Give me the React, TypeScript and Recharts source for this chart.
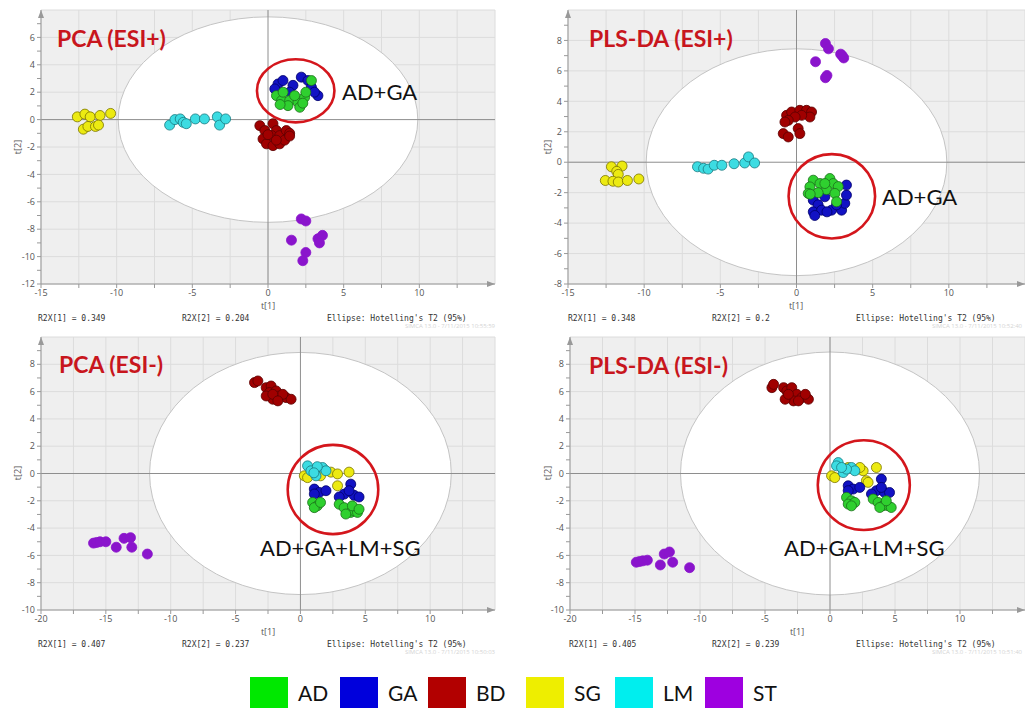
import {
  ScatterChart,
  Scatter,
  XAxis,
  YAxis,
  CartesianGrid,
  ReferenceArea,
  ReferenceLine,
  ReferenceDot,
} from "recharts";

type Pt = [number, number];

// PCA (ESI+)
const pcaPosAD: Pt[] = [[0.56, 1.75], [0.9, 1.39], [1.43, 1.39], [1.98, 1.26], [2.42, 1.63], [2.1, 0.9], [1.32, 1.02], [2.87, 2.85], [2.5, 2.0], [1.76, 1.75], [1.0, 2.0], [0.8, 1.1], [2.3, 1.2]];
const pcaPosGA: Pt[] = [[0.66, 2.6], [0.99, 2.85], [1.65, 2.5], [2.2, 3.1], [2.64, 2.85], [2.87, 2.36], [3.3, 1.75], [3.07, 2.0], [1.43, 2.0], [0.45, 2.24]];
const pcaPosBD: Pt[] = [[-0.54, -0.44], [-0.21, -0.8], [0.33, -0.3], [0.56, -0.8], [0.25, -1.17], [0.77, -1.17], [1.21, -0.8], [1.43, -1.0], [-0.33, -1.41], [-0.1, -1.77], [0.33, -1.9], [0.77, -1.77], [1.1, -1.5], [1.43, -1.2], [0.55, -1.5], [0.0, -1.1]];
const pcaPosSG: Pt[] = [[-12.6, 0.2], [-12.1, 0.4], [-11.75, 0.2], [-11.1, 0.3], [-10.4, 0.45], [-12.2, -0.7], [-11.9, -0.5], [-11.4, -0.5], [-11.2, -0.4]];
const pcaPosLM: Pt[] = [[-6.5, -0.4], [-6.15, 0.0], [-5.8, 0.05], [-5.6, -0.2], [-5.4, -0.3], [-4.8, 0.05], [-4.2, 0.05], [-3.35, 0.2], [-3.2, -0.4], [-2.8, 0.05]];
const pcaPosST: Pt[] = [[2.2, -7.25], [2.5, -7.4], [1.55, -8.8], [3.3, -8.7], [3.6, -8.45], [3.4, -9.0], [2.5, -9.7], [2.3, -10.3]];

// PLS-DA (ESI+)
const plsPosAD: Pt[] = [[1.1, -1.18], [0.88, -1.62], [0.77, -2.05], [1.54, -1.4], [2.19, -1.07], [2.41, -1.4], [2.74, -1.6], [1.97, -1.8], [1.42, -2.0], [2.52, -2.05], [2.63, -2.6], [1.86, -1.4], [0.9, -2.1]];
const plsPosGA: Pt[] = [[1.1, -2.49], [1.42, -2.8], [1.1, -3.26], [1.65, -3.15], [2.3, -3.15], [2.96, -3.15], [3.17, -2.7], [3.28, -2.16], [3.28, -1.5], [1.86, -2.27], [2.63, -2.8], [1.2, -3.5], [2.0, -3.26]];
const plsPosBD: Pt[] = [[-0.65, 3.08], [-0.32, 3.3], [0.22, 3.41], [0.66, 3.41], [0.99, 3.3], [0.88, 2.97], [0.34, 3.08], [-0.09, 2.97], [-0.54, 2.75], [-0.76, 2.64], [-0.87, 1.88], [-0.54, 1.66], [0.11, 2.21], [0.22, 1.88]];
const plsPosSG: Pt[] = [[-12.15, -0.3], [-11.45, -0.25], [-11.8, -0.6], [-11.7, -0.8], [-12.55, -1.2], [-12.05, -1.25], [-11.7, -1.3], [-11.1, -1.2], [-10.35, -1.1]];
const plsPosLM: Pt[] = [[-6.5, -0.3], [-6.1, -0.4], [-5.8, -0.45], [-5.4, -0.2], [-4.9, -0.2], [-4.1, -0.1], [-3.4, -0.05], [-3.15, 0.35], [-2.75, -0.05]];
const plsPosST: Pt[] = [[1.9, 7.8], [2.1, 7.45], [1.25, 6.6], [3.0, 7.0], [3.1, 6.85], [2.0, 5.7], [1.9, 5.55], [2.9, 7.1]];

// PCA (ESI-)
const pcaNegAD: Pt[] = [[0.94, -2.12], [1.3, -2.37], [1.07, -2.5], [1.55, -2.12], [2.99, -2.25], [3.37, -2.5], [3.88, -2.85], [4.14, -2.74], [4.4, -2.85], [4.0, -2.37], [3.5, -2.97], [4.52, -2.62]];
const pcaNegGA: Pt[] = [[1.07, -1.14], [1.45, -1.39], [1.97, -1.26], [3.88, -0.78], [3.37, -1.51], [4.14, -1.6], [4.52, -1.72], [2.99, -1.72], [1.07, -1.5], [3.75, -1.26]];
const pcaNegBD: Pt[] = [[-3.54, 6.66], [-3.28, 6.78], [-2.64, 6.29], [-2.26, 6.41], [-2.39, 5.93], [-1.87, 6.05], [-1.62, 5.68], [-1.1, 5.56], [-0.72, 5.44], [-2.13, 5.44], [-2.64, 5.68], [-1.36, 5.8], [-2.13, 5.8], [-1.74, 5.32]];
const pcaNegSG: Pt[] = [[0.3, -0.17], [0.55, -0.3], [2.35, 0.1], [2.86, -0.03], [3.75, 0.1], [2.86, -0.9], [1.8, 0.3], [1.55, -0.17]];
const pcaNegLM: Pt[] = [[0.55, 0.56], [0.81, 0.2], [1.2, -0.17], [1.7, 0.44], [1.97, 0.2], [1.3, 0.5], [1.04, 0.05]];
const pcaNegST: Pt[] = [[-15.95, -5.1], [-15.7, -5.05], [-15.45, -5.0], [-15.0, -5.0], [-14.2, -5.4], [-13.6, -4.75], [-13.1, -4.7], [-13.0, -5.4], [-11.8, -5.9]];

// PLS-DA (ESI-)
const plsNegAD: Pt[] = [[1.27, -1.75], [1.65, -2.0], [1.4, -2.24], [1.91, -2.12], [3.32, -1.87], [3.7, -2.12], [4.08, -2.36], [4.46, -2.36], [4.71, -2.49], [3.83, -2.49], [4.33, -2.0], [1.65, -2.37]];
const plsNegGA: Pt[] = [[1.4, -0.9], [1.78, -1.14], [2.29, -1.02], [3.95, -0.41], [3.57, -1.26], [4.2, -1.39], [4.58, -1.39], [3.19, -1.5], [1.4, -1.26], [3.95, -1.02]];
const plsNegBD: Pt[] = [[-4.47, 6.29], [-4.34, 6.53], [-3.57, 6.29], [-3.32, 6.05], [-2.94, 6.29], [-3.06, 5.68], [-2.55, 5.8], [-2.17, 5.56], [-1.66, 5.44], [-2.81, 5.32], [-3.45, 5.44], [-2.43, 5.32], [-3.2, 5.8], [-1.9, 5.8]];
const plsNegSG: Pt[] = [[0.12, -0.17], [0.37, -0.3], [1.4, 0.44], [2.17, 0.32], [2.55, 0.2], [3.57, 0.44], [2.8, -0.53], [2.93, -0.65], [2.3, 0.44]];
const plsNegLM: Pt[] = [[0.63, 0.8], [0.5, 0.56], [1.02, 0.07], [1.65, 0.44], [1.91, 0.2], [1.27, 0.32], [0.89, 0.44]];
const plsNegST: Pt[] = [[-14.9, -6.5], [-14.65, -6.45], [-14.4, -6.4], [-14.05, -6.35], [-13.05, -6.7], [-12.75, -5.9], [-12.35, -5.75], [-12.1, -6.5], [-10.8, -6.9]];

const groups = ["ST", "BD", "SG", "LM", "GA", "AD"];
const legendKeys = ["AD", "GA", "BD", "SG", "LM", "ST"];

const markerFill: Record<string, string> = {
  AD: "#2fd02f",
  GA: "#1212c4",
  BD: "#a00000",
  SG: "#ecea12",
  LM: "#3cdce2",
  ST: "#8a14cc",
};
const markerStroke: Record<string, string> = {
  AD: "#1c6e1c",
  GA: "#00006a",
  BD: "#5a0000",
  SG: "#7a7400",
  LM: "#1a7a80",
  ST: "#8a14cc",
};
const legendColor: Record<string, string> = {
  AD: "#00e800",
  GA: "#0000dc",
  BD: "#b20000",
  SG: "#eeee00",
  LM: "#00eeee",
  ST: "#9e00e0",
};

const panels = [
  {
    title: "PCA (ESI+)", label: "AD+GA", r2x1: "0.349", r2x2: "0.204", stamp: "SIMCA 13.0 - 7/11/2015 10:55:59",
    data: { AD: pcaPosAD, GA: pcaPosGA, BD: pcaPosBD, SG: pcaPosSG, LM: pcaPosLM, ST: pcaPosST } as Record<string, Pt[]>,
    xDomain: [-15, 15], yDomain: [-12, 8], ellipse: [9.9, 7.5], circle: [1.83, 2.1, 2.56, 2.3],
    left: 0, top: 0, width: 512, yw: 41, mt: 10, mr: 17, mb: 20,
    titleX: 57, titleY: 38, labelX: 342, labelY: 92, t1: [268, 305], t2: [17, 147], footY: 319, footX: [38, 182, 327], stampX: 495,
  },
  {
    title: "PLS-DA (ESI+)", label: "AD+GA", r2x1: "0.348", r2x2: "0.2", stamp: "SIMCA 13.0 - 7/11/2015 10:52:40",
    data: { AD: plsPosAD, GA: plsPosGA, BD: plsPosBD, SG: plsPosSG, LM: plsPosLM, ST: plsPosST } as Record<string, Pt[]>,
    xDomain: [-15, 15], yDomain: [-8, 10], ellipse: [9.87, 7.45], circle: [2.32, -2.24, 2.84, 2.77],
    left: 512, top: 0, width: 513, yw: 56, mt: 10, mr: 0, mb: 20,
    titleX: 589, titleY: 38, labelX: 882, labelY: 197, t1: [796, 305], t2: [547, 147], footY: 319, footX: [568, 712, 856], stampX: 1022,
  },
  {
    title: "PCA (ESI-)", label: "AD+GA+LM+SG", r2x1: "0.407", r2x2: "0.237", stamp: "SIMCA 13.0 - 7/11/2015 10:50:03",
    data: { AD: pcaNegAD, GA: pcaNegGA, BD: pcaNegBD, SG: pcaNegSG, LM: pcaNegLM, ST: pcaNegST } as Record<string, Pt[]>,
    xDomain: [-20, 15], yDomain: [-10, 10], ellipse: [11.63, 8.87], circle: [2.51, -1.17, 3.49, 3.27],
    left: 0, top: 330, width: 512, yw: 41, mt: 7, mr: 17, mb: 24,
    titleX: 59, titleY: 364, labelX: 260, labelY: 548, t1: [268, 631], t2: [17, 473], footY: 645, footX: [38, 182, 327], stampX: 495,
  },
  {
    title: "PLS-DA (ESI-)", label: "AD+GA+LM+SG", r2x1: "0.405", r2x2: "0.239", stamp: "SIMCA 13.0 - 7/11/2015 10:51:40",
    data: { AD: plsNegAD, GA: plsNegGA, BD: plsNegBD, SG: plsNegSG, LM: plsNegLM, ST: plsNegST } as Record<string, Pt[]>,
    xDomain: [-20, 15], yDomain: [-10, 10], ellipse: [11.5, 8.9], circle: [2.6, -0.85, 3.54, 3.29],
    left: 512, top: 330, width: 513, yw: 58, mt: 7, mr: 0, mb: 24,
    titleX: 589, titleY: 365, labelX: 784, labelY: 548, t1: [797, 631], t2: [547, 473], footY: 645, footX: [569, 712, 856], stampX: 1022,
  },
];

const range = (a: number, b: number, s: number) => {
  const out: number[] = [];
  for (let v = a; v <= b + 1e-9; v += s) out.push(Math.round(v * 100) / 100);
  return out;
};

const dot = (fill: string, stroke: string) => (p: any) => (
  <circle cx={p.cx} cy={p.cy} r={5} fill={fill} stroke={stroke} strokeWidth={0.8} />
);

const ellipseShape = (fill: string, stroke: string, sw: number) => (p: any) => (
  <ellipse
    cx={p.x + p.width / 2}
    cy={p.y + p.height / 2}
    rx={Math.abs(p.width) / 2}
    ry={Math.abs(p.height) / 2}
    fill={fill}
    stroke={stroke}
    strokeWidth={sw}
  />
);

const tickStyle = { fontSize: 9, fill: "#555", fontFamily: "'Open Sans', sans-serif" };
const monoStyle = { fontFamily: "'DejaVu Sans Mono', monospace", fontSize: 8, color: "#333" };

function Panel({ p }: { p: (typeof panels)[number] }) {
  const [x0, x1] = p.xDomain;
  const [y0, y1] = p.yDomain;
  const xTicks = range(x0, x1 - 2.5, 2.5);
  const yTicks = range(y0, y1 - 1, 1);
  const [ex, ey] = p.ellipse;
  const [ccx, ccy, crx, cry] = p.circle;
  return (
    <div style={{ position: "absolute", left: p.left, top: p.top }}>
      <ScatterChart
        width={p.width}
        height={330}
        margin={{ top: p.mt, right: p.mr, bottom: p.mb, left: 0 }}
      >
        <CartesianGrid
          fill="#efefef"
          stroke="#dcdcdc"
          horizontalValues={range(y0, y1, 2)}
          verticalValues={range(x0, x1, 2.5)}
        />
        <XAxis
          type="number"
          dataKey="x"
          domain={[x0, x1]}
          ticks={xTicks}
          interval={0}
          allowDataOverflow
          tickSize={4}
          tick={tickStyle}
          tickFormatter={(v: number) => (v % 5 === 0 ? String(v) : "")}
          stroke="#999"
          height={26}
        />
        <YAxis
          type="number"
          dataKey="y"
          domain={[y0, y1]}
          ticks={yTicks}
          interval={0}
          allowDataOverflow
          tickSize={4}
          tick={tickStyle}
          tickFormatter={(v: number) => (v % 2 === 0 ? String(v) : "")}
          stroke="#999"
          width={p.yw}
        />
        <ReferenceArea x1={-ex} x2={ex} y1={-ey} y2={ey} shape={ellipseShape("#ffffff", "#c4c4c4", 1)} />
        <ReferenceLine x={0} stroke="#8e8e8e" />
        <ReferenceLine y={0} stroke="#8e8e8e" />
        <ReferenceArea
          x1={ccx - crx}
          x2={ccx + crx}
          y1={ccy - cry}
          y2={ccy + cry}
          shape={ellipseShape("none", "#d4161c", 2.6)}
          zIndex={450}
        />
        <ReferenceDot
          x={x1}
          y={y0}
          r={0}
          ifOverflow="visible"
          shape={(d: any) => <path d={`M${d.cx - 8},${d.cy - 3} L${d.cx},${d.cy} L${d.cx - 8},${d.cy + 3} Z`} fill="#999" />}
        />
        <ReferenceDot
          x={x0}
          y={y1}
          r={0}
          ifOverflow="visible"
          shape={(d: any) => <path d={`M${d.cx - 3},${d.cy + 8} L${d.cx},${d.cy} L${d.cx + 3},${d.cy + 8} Z`} fill="#999" />}
        />
        {groups.map((g) => (
          <Scatter
            key={g}
            name={g}
            data={p.data[g].map(([x, y]) => ({ x, y }))}
            shape={dot(markerFill[g], markerStroke[g])}
            isAnimationActive={false}
          />
        ))}
      </ScatterChart>
    </div>
  );
}

function Overlay({ p }: { p: (typeof panels)[number] }) {
  const abs = (x: number, y: number, extra: any) => ({
    position: "absolute" as const,
    left: x,
    top: y,
    whiteSpace: "nowrap" as const,
    lineHeight: 1,
    ...extra,
  });
  return (
    <>
      <div style={abs(p.titleX, p.titleY, { transform: "translateY(-50%)", fontFamily: "Lato, sans-serif", fontWeight: 700, fontSize: 23, color: "#c8161d" })}>
        {p.title}
      </div>
      <div style={abs(p.labelX, p.labelY, { transform: "translateY(-50%)", fontFamily: "Lato, sans-serif", fontSize: 22, color: "#111" })}>
        {p.label}
      </div>
      <div style={abs(p.t1[0], p.t1[1], { transform: "translate(-50%,-50%)", ...tickStyle, color: "#555" })}>t[1]</div>
      <div style={abs(p.t2[0], p.t2[1], { transform: "translate(-50%,-50%) rotate(-90deg)", ...tickStyle, color: "#555" })}>t[2]</div>
      <div style={abs(p.footX[0], p.footY, { transform: "translateY(-50%)", ...monoStyle })}>{`R2X[1] = ${p.r2x1}`}</div>
      <div style={abs(p.footX[1], p.footY, { transform: "translateY(-50%)", ...monoStyle })}>{`R2X[2] = ${p.r2x2}`}</div>
      <div style={abs(p.footX[2], p.footY, { transform: "translateY(-50%)", ...monoStyle })}>Ellipse: Hotelling's T2 (95%)</div>
      <div style={abs(p.stampX, p.footY + 7, { transform: "translate(-100%,-50%)", fontFamily: "'Open Sans', sans-serif", fontSize: 6, color: "#d4d4d4" })}>
        {p.stamp}
      </div>
    </>
  );
}

const legendLeft = [250, 340, 428, 526, 615, 705];

export default function App() {
  return (
    <div
      style={{
        position: "absolute",
        left: 0,
        top: 0,
        width: 1025,
        height: 718,
        overflow: "hidden",
        background: "#fff",
        fontFamily: "Lato, sans-serif",
      }}
    >
      {panels.map((p) => (
        <Panel key={p.title} p={p} />
      ))}
      {panels.map((p) => (
        <Overlay key={p.title} p={p} />
      ))}
      {legendKeys.map((k, i) => (
        <div key={k} style={{ position: "absolute", left: legendLeft[i], top: 677, display: "flex", alignItems: "center" }}>
          <div style={{ width: 38, height: 31, background: legendColor[k] }} />
          <span style={{ marginLeft: 10, fontSize: 21, color: "#111", lineHeight: 1 }}>{k}</span>
        </div>
      ))}
    </div>
  );
}
